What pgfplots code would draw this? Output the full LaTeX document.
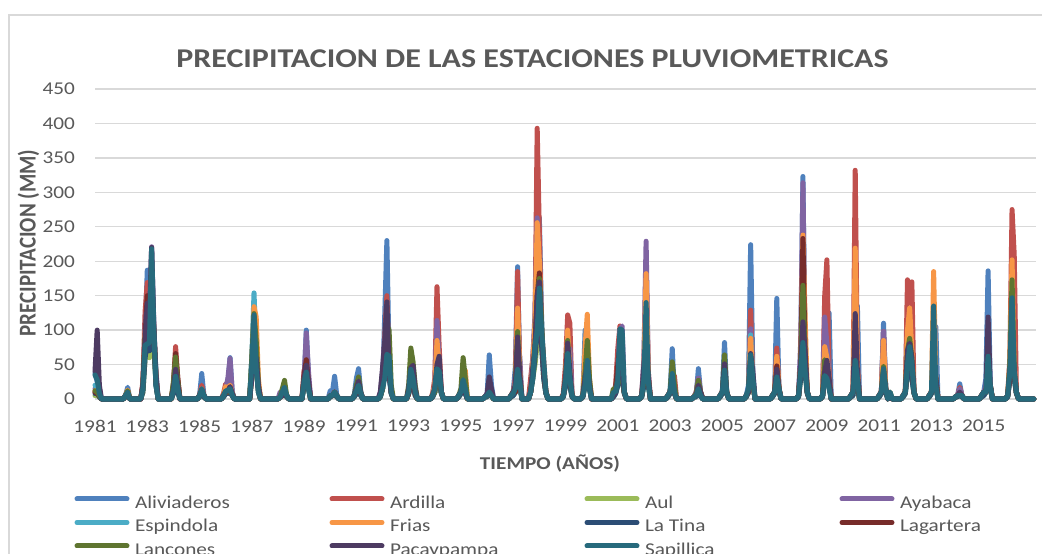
\documentclass[border=0pt]{standalone}
\usepackage{fontspec}
\setmainfont{Carlito}[FakeStretch=1.18]
\newfontfamily\plainfont{Carlito}
\usepackage{pgfplots}
\usepackage{pgfplotstable}
\pgfplotsset{compat=1.18}
\definecolor{cAli}{HTML}{4F81BD}
\definecolor{cArd}{HTML}{C0504D}
\definecolor{cAul}{HTML}{9BBB59}
\definecolor{cAya}{HTML}{8064A2}
\definecolor{cEsp}{HTML}{4BACC6}
\definecolor{cFri}{HTML}{F79646}
\definecolor{cLaT}{HTML}{2C4D75}
\definecolor{cLag}{HTML}{772C2A}
\definecolor{cLan}{HTML}{5F7530}
\definecolor{cPac}{HTML}{4D3B62}
\definecolor{cSap}{HTML}{276A7C}
\definecolor{txt}{HTML}{595959}
\definecolor{grd}{HTML}{D9D9D9}

\pgfplotstableread{
m Ali Ard Aul Aya Esp Fri LaT Lag Lan Pac Sap
0 38 10 5 15 20 12 8 10 12 40 35
1 25 8 5 10 15 10 8 8 10 100 28
2 10 5 3 5 5 5 3 5 5 20 8
3 0 0 0 0 0 0 0 0 0 0 0
13 0 0 0 0 0 0 0 0 0 0 0
14 5 5 3 5 5 5 3 5 5 5 5
15 17 12 6 8 10 13 6 10 12 8 10
16 0 0 0 0 0 0 0 0 0 0 0
21 0 0 0 0 0 0 0 0 0 0 0
22 20 25 10 20 15 20 10 20 15 20 15
23 95 127 60 105 70 97 60 92 88 85 78
24 187 169 70 140 90 120 80 150 95 139 80
25 120 110 60 120 80 100 70 100 90 120 82
26 150 150 100 221 150 160 140 180 150 220 218
27 100 90 80 110 90 100 90 100 95 105 102
28 40 30 20 30 20 30 20 25 30 35 20
29 0 0 0 0 0 0 0 0 0 0 0
35 0 0 0 0 0 0 0 0 0 0 0
36 10 20 8 15 10 12 8 20 25 15 12
37 40 76 30 45 30 40 30 66 61 43 33
38 15 30 10 15 10 20 10 30 25 20 15
39 0 0 0 0 0 0 0 0 0 0 0
47 0 0 0 0 0 0 0 0 0 0 0
48 5 5 3 5 3 5 3 5 5 5 5
49 37 20 10 15 12 15 10 12 12 14 15
50 5 5 3 5 3 5 3 5 5 5 5
51 0 0 0 0 0 0 0 0 0 0 0
58 0 0 0 0 0 0 0 0 0 0 0
59 5 8 3 5 3 5 3 5 5 5 5
60 10 22 8 15 8 18 8 10 10 10 12
61 20 15 8 30 8 15 8 10 10 12 12
62 60 20 10 59 10 20 10 12 15 18 15
63 10 8 5 10 5 8 5 5 8 8 5
64 0 0 0 0 0 0 0 0 0 0 0
71 0 0 0 0 0 0 0 0 0 0 0
72 60 40 30 50 60 50 40 40 60 30 50
73 124 100 80 110 154 134 90 100 124 70 122
74 80 60 50 60 70 119 50 60 85 59 45
75 20 20 10 15 15 30 10 15 20 20 10
76 0 0 0 0 0 0 0 0 0 0 0
84 0 0 0 0 0 0 0 0 0 0 0
85 3 3 3 10 3 3 3 3 3 3 3
86 5 5 5 8 5 8 5 5 15 5 10
87 10 8 8 8 8 10 8 8 27 8 17
88 5 5 3 5 3 5 3 5 5 5 5
89 0 0 0 0 0 0 0 0 0 0 0
95 0 0 0 0 0 0 0 0 0 0 0
96 20 42 20 30 20 25 20 35 30 30 25
97 100 45 30 96 35 40 30 57 40 49 39
98 30 20 15 40 15 20 15 25 20 25 15
99 0 0 0 0 0 0 0 0 0 0 0
107 0 0 0 0 0 0 0 0 0 0 0
108 12 5 3 5 3 5 3 5 5 5 5
109 10 5 5 5 5 5 5 5 5 5 5
110 33 10 8 10 8 10 8 10 10 10 10
111 5 5 3 5 3 5 3 5 5 5 5
112 0 0 0 0 0 0 0 0 0 0 0
118 0 0 0 0 0 0 0 0 0 0 0
119 5 5 3 5 3 5 3 5 5 5 5
120 30 10 8 10 8 10 8 10 20 15 12
121 44 20 10 15 12 15 10 15 32 26 20
122 10 8 5 8 5 8 5 8 10 10 8
123 0 0 0 0 0 0 0 0 0 0 0
130 0 0 0 0 0 0 0 0 0 0 0
131 5 5 3 10 3 5 3 5 5 10 5
132 20 20 15 40 15 15 15 15 15 45 15
133 120 90 40 83 50 70 50 70 60 83 30
134 230 150 60 120 80 102 70 100 107 141 65
135 60 50 40 40 30 50 40 40 100 40 62
136 10 10 8 10 8 10 8 10 20 10 10
137 0 0 0 0 0 0 0 0 0 0 0
143 0 0 0 0 0 0 0 0 0 0 0
144 10 8 8 8 8 8 8 8 20 15 10
145 40 35 25 40 30 35 25 35 74 45 43
146 30 25 20 30 20 25 20 30 54 49 30
147 8 8 5 8 5 8 5 8 20 15 10
148 0 0 0 0 0 0 0 0 0 0 0
154 0 0 0 0 0 0 0 0 0 0 0
155 5 8 3 5 3 5 3 5 5 5 5
156 10 30 10 20 10 20 10 15 10 15 15
157 60 163 30 114 40 85 35 42 40 50 44
158 40 76 25 50 30 50 30 40 35 62 40
159 10 10 8 10 8 10 8 10 10 10 10
160 0 0 0 0 0 0 0 0 0 0 0
166 0 0 0 0 0 0 0 0 0 0 0
167 5 5 3 5 3 5 3 5 5 5 5
168 10 10 8 10 8 10 8 10 15 10 10
169 30 25 20 25 20 35 20 25 60 25 28
170 10 10 8 10 8 42 8 10 30 10 15
171 0 0 0 0 0 0 0 0 0 0 0
178 0 0 0 0 0 0 0 0 0 0 0
179 3 3 3 3 3 3 3 3 3 3 3
180 5 5 3 5 3 5 3 5 5 8 5
181 64 20 10 15 10 10 10 10 10 32 10
182 20 8 5 8 5 5 5 5 5 15 5
183 0 0 0 0 0 0 0 0 0 0 0
190 0 0 0 0 0 0 0 0 0 0 0
191 5 5 3 5 3 5 3 5 5 5 5
192 10 10 5 10 5 10 5 10 10 10 8
193 47 30 10 25 10 20 10 10 20 20 15
194 192 185 50 80 60 132 50 70 98 90 43
195 40 40 20 62 20 40 20 30 30 35 25
196 0 0 0 0 0 0 0 0 0 0 0
199 0 0 0 0 0 0 0 0 0 0 0
200 20 30 10 10 10 10 10 10 10 10 10
201 50 60 30 60 40 50 30 40 40 45 30
202 90 110 50 124 70 110 60 80 70 70 76
203 150 393 80 263 120 256 100 150 140 150 100
204 263 241 100 180 140 200 120 183 175 170 161
205 120 100 80 100 80 90 80 100 110 90 100
206 40 56 30 40 30 40 30 40 42 40 56
207 10 10 8 10 8 10 8 10 10 10 10
208 0 0 0 0 0 0 0 0 0 0 0
214 0 0 0 0 0 0 0 0 0 0 0
215 5 8 3 5 3 5 3 5 5 5 5
216 20 50 20 30 20 30 20 30 30 30 25
217 60 122 40 60 40 100 40 60 85 81 66
218 30 110 20 73 20 40 20 30 30 40 30
219 5 5 3 5 3 5 3 5 5 5 5
220 0 0 0 0 0 0 0 0 0 0 0
223 0 0 0 0 0 0 0 0 0 0 0
224 5 5 3 5 3 5 3 5 5 5 5
225 100 30 20 40 30 76 20 30 40 30 20
226 60 40 30 50 40 123 30 40 85 50 56
227 20 20 15 20 15 30 15 20 30 20 15
228 0 0 0 0 0 0 0 0 0 0 0
237 0 0 0 0 0 0 0 0 0 0 0
238 5 5 3 5 3 5 3 5 15 5 10
239 10 20 8 10 8 10 8 15 15 10 10
240 30 73 20 40 20 30 20 50 30 30 25
241 60 106 40 100 50 60 50 80 50 60 102
242 40 50 30 106 30 50 30 40 30 40 100
243 10 10 8 10 8 10 8 10 10 10 10
244 0 0 0 0 0 0 0 0 0 0 0
250 0 0 0 0 0 0 0 0 0 0 0
251 5 5 3 5 3 5 3 5 5 5 5
252 30 50 20 60 20 40 20 30 30 50 30
253 100 202 50 229 80 182 60 80 70 76 140
254 30 40 20 40 20 30 20 30 30 30 25
255 0 0 0 0 0 0 0 0 0 0 0
262 0 0 0 0 0 0 0 0 0 0 0
263 5 5 3 5 3 5 3 5 5 5 5
264 10 10 8 10 8 10 8 10 10 10 10
265 73 30 20 30 20 25 20 25 54 30 37
266 10 34 8 10 8 10 8 10 20 10 10
267 0 0 0 0 0 0 0 0 0 0 0
274 0 0 0 0 0 0 0 0 0 0 0
275 3 3 3 3 3 3 3 3 3 3 3
276 5 10 3 10 3 5 3 5 8 5 5
277 44 30 15 30 15 20 15 20 27 20 15
278 10 10 5 10 5 10 5 10 10 10 5
279 0 0 0 0 0 0 0 0 0 0 0
286 0 0 0 0 0 0 0 0 0 0 0
287 5 5 3 5 3 5 3 5 5 5 5
288 10 10 8 10 8 10 8 10 10 10 10
289 82 30 25 30 25 30 25 30 64 51 42
290 10 10 8 10 8 10 8 10 10 10 10
291 0 0 0 0 0 0 0 0 0 0 0
298 0 0 0 0 0 0 0 0 0 0 0
299 5 5 3 5 3 5 3 5 5 5 5
300 20 10 10 10 10 10 10 10 10 10 15
301 224 129 50 102 93 88 50 60 60 66 64
302 40 30 25 25 25 25 25 25 25 40 30
303 0 0 0 0 0 0 0 0 0 0 0
310 0 0 0 0 0 0 0 0 0 0 0
311 5 5 3 5 3 5 3 5 5 5 5
312 10 10 8 10 8 10 8 10 10 10 10
313 146 74 30 40 35 62 30 48 40 43 32
314 15 15 10 15 10 15 10 15 15 15 15
315 0 0 0 0 0 0 0 0 0 0 0
322 0 0 0 0 0 0 0 0 0 0 0
323 5 5 3 5 3 5 3 5 5 5 5
324 60 50 30 85 40 50 30 50 50 50 40
325 323 200 80 314 150 238 100 233 165 112 82
326 60 60 40 60 50 119 40 60 60 70 40
327 10 10 8 10 8 10 8 10 10 10 10
328 0 0 0 0 0 0 0 0 0 0 0
333 0 0 0 0 0 0 0 0 0 0 0
334 5 5 3 5 3 5 3 5 5 5 5
335 40 150 30 119 30 76 30 40 57 40 34
336 60 202 30 80 40 60 30 50 50 56 30
337 125 40 20 30 20 30 20 25 25 30 15
338 0 0 0 0 0 0 0 0 0 0 0
346 0 0 0 0 0 0 0 0 0 0 0
347 5 5 3 5 3 5 3 5 5 5 5
348 10 10 5 10 5 10 5 10 10 10 10
349 100 332 40 60 40 219 40 60 50 124 56
350 135 50 20 30 20 40 20 30 30 40 30
351 0 0 0 0 0 0 0 0 0 0 0
359 0 0 0 0 0 0 0 0 0 0 0
360 5 5 3 5 3 5 3 5 5 5 5
361 10 10 8 10 8 10 8 10 10 10 10
362 110 98 30 98 30 85 30 40 47 40 44
363 15 15 10 15 10 15 10 15 15 15 15
364 0 0 0 0 0 0 0 0 0 0 0
365 5 5 5 5 5 5 5 5 10 5 10
366 0 0 0 0 0 0 0 0 0 0 0
370 0 0 0 0 0 0 0 0 0 0 0
371 5 5 3 5 3 5 3 5 5 5 5
372 10 10 8 10 8 10 8 10 10 10 10
373 60 173 40 60 40 100 40 60 70 70 50
374 80 150 50 80 60 132 50 80 88 81 76
375 60 170 30 60 30 70 30 50 60 60 50
376 10 10 8 10 8 10 8 10 10 10 10
377 0 0 0 0 0 0 0 0 0 0 0
382 0 0 0 0 0 0 0 0 0 0 0
383 5 5 3 5 3 5 3 5 5 5 5
384 10 10 8 10 8 10 8 10 10 10 10
385 60 40 30 40 30 185 30 40 40 40 135
386 105 30 20 30 20 30 20 30 30 30 20
387 0 0 0 0 0 0 0 0 0 0 0
394 0 0 0 0 0 0 0 0 0 0 0
395 3 3 3 3 3 3 3 3 3 3 3
396 5 5 3 5 3 5 3 5 5 5 5
397 22 17 8 15 8 8 8 8 8 10 5
398 5 5 3 5 3 5 3 5 5 5 5
399 0 0 0 0 0 0 0 0 0 0 0
406 0 0 0 0 0 0 0 0 0 0 0
407 5 5 3 5 3 5 3 5 5 5 5
408 10 10 5 10 5 10 5 10 10 10 10
409 30 10 10 17 10 10 10 10 10 10 10
410 186 40 30 40 30 40 30 30 30 119 62
411 20 20 15 20 15 20 15 20 20 20 20
412 0 0 0 0 0 0 0 0 0 0 0
418 0 0 0 0 0 0 0 0 0 0 0
419 5 5 3 5 3 5 3 5 5 5 5
420 30 60 30 40 30 50 30 30 50 40 40
421 150 275 60 100 70 202 60 100 173 80 147
422 40 209 30 50 30 50 30 40 40 40 40
423 10 10 8 10 8 10 8 10 10 10 10
424 0 0 0 0 0 0 0 0 0 0 0
431 0 0 0 0 0 0 0 0 0 0 0
}\prec

\newcommand{\legtxt}[1]{\makebox[194.5bp][l]{#1}}

\begin{document}
\begin{tikzpicture}
\useasboundingbox (0,0) rectangle (1042bp,554bp);
\fill[white] (0,0) rectangle (1042bp,554bp);
\draw[grd, line width=1.3bp] (9bp,-20bp) -- (9bp,539bp) -- (1070bp,539bp);
\begin{axis}[
  at={(95bp,155bp)}, anchor=south west,
  scale only axis, width=941bp, height=310bp,
  xmin=0, xmax=432, ymin=0, ymax=450,
  clip=false,
  axis line style={draw=none},
  major tick length=0pt,
  ytick={0,50,...,450},
  xtick={0,24,...,408},
  xticklabels={1981,1983,1985,1987,1989,1991,1993,1995,1997,1999,2001,2003,2005,2007,2009,2011,2013,2015},
  ymajorgrids,
  major grid style={grd, line width=1.3bp},
  tick label style={font=\fontsize{18bp}{20bp}\selectfont, text=txt},
  /pgf/number format/assume math mode=true,
  yticklabel style={anchor=east, inner sep=0pt, xshift=-20bp},
  xticklabel style={anchor=north, inner sep=0pt, yshift=-21bp},
  every axis plot/.append style={line width=5bp, line join=round, line cap=round},
  legend columns=4,
  legend cell align=left,
  legend image code/.code={\draw[#1, line width=5bp, line cap=round] (0bp,5bp) -- (50bp,5bp);},
  legend style={at={(0,0)}, anchor=north west, xshift=-20.5bp, yshift=-96.2bp,
    draw=none, fill=none, inner sep=0pt, outer sep=0pt,
    font=\fontsize{18bp}{20bp}\selectfont, text=txt, row sep=6bp,
    nodes={inner sep=0pt, text height=13bp, text depth=4.5bp},
    /tikz/every odd column/.append style={column sep=5.5bp},
    /tikz/every even column/.append style={column sep=0bp}},
]
\addplot[cAli] table[x=m, y=Ali] {\prec}; \addlegendentry{\legtxt{Aliviaderos}}
\addplot[cArd] table[x=m, y=Ard] {\prec}; \addlegendentry{\legtxt{Ardilla}}
\addplot[cAul] table[x=m, y=Aul] {\prec}; \addlegendentry{\legtxt{Aul}}
\addplot[cAya] table[x=m, y=Aya] {\prec}; \addlegendentry{\legtxt{Ayabaca}}
\addplot[cEsp] table[x=m, y=Esp] {\prec}; \addlegendentry{\legtxt{Espindola}}
\addplot[cFri] table[x=m, y=Fri] {\prec}; \addlegendentry{\legtxt{Frias}}
\addplot[cLaT] table[x=m, y=LaT] {\prec}; \addlegendentry{\legtxt{La Tina}}
\addplot[cLag] table[x=m, y=Lag] {\prec}; \addlegendentry{\legtxt{Lagartera}}
\addplot[cLan] table[x=m, y=Lan] {\prec}; \addlegendentry{\legtxt{Lancones}}
\addplot[cPac] table[x=m, y=Pac] {\prec}; \addlegendentry{\legtxt{Pacaypampa}}
\addplot[cSap] table[x=m, y=Sap] {\prec}; \addlegendentry{\legtxt{Sapillica}}
\end{axis}
\node[anchor=base, text=txt, font=\fontsize{27.1bp}{30bp}\selectfont\bfseries] at (532.5bp,486.3bp) {PRECIPITACION DE LAS ESTACIONES PLUVIOMETRICAS};
\node[anchor=base, text=txt, font=\fontsize{18bp}{20bp}\selectfont\bfseries] at (550bp,84bp) {TIEMPO (AÑOS)};
\node[rotate=90, text=txt, inner sep=0pt, font=\plainfont\fontsize{21bp}{24bp}\selectfont\bfseries] at (28.5bp,311bp) {\scalebox{1}[1.15]{PRECIPITACION (MM)}};
\end{tikzpicture}
\end{document}
